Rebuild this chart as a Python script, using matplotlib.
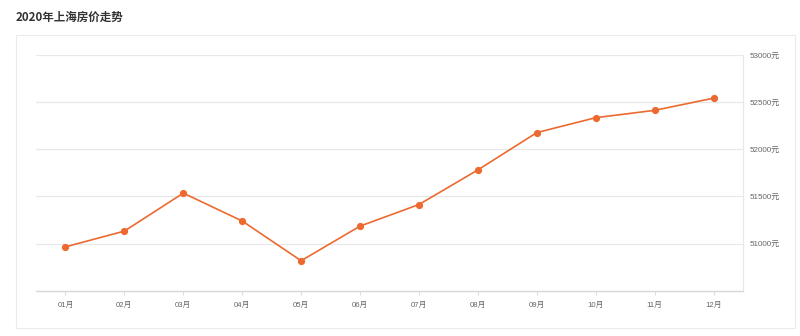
import matplotlib
matplotlib.use("Agg")
import matplotlib.pyplot as plt
from matplotlib.patches import Rectangle

plt.rcParams['font.family'] = ['Noto Sans CJK SC', 'DejaVu Sans']
tick_family = ['Liberation Sans', 'Noto Sans CJK SC']

months = ["01月", "02月", "03月", "04月", "05月", "06月",
          "07月", "08月", "09月", "10月", "11月", "12月"]
prices = [50965, 51132, 51535, 51239, 50818, 51185,
          51414, 51781, 52177, 52335, 52413, 52542]
yticks = [51000, 51500, 52000, 52500, 53000]
ytick_labels = ["51000元", "51500元", "52000元", "52500元", "53000元"]

fig = plt.figure(figsize=(8, 3.36), dpi=100)
fig.patch.set_facecolor("white")

# outer panel border
fig.patches.append(Rectangle((16/800, 1-328/336), (795-16)/800, (328-35)/336,
                             transform=fig.transFigure, facecolor="none",
                             edgecolor="#EBEBEB", linewidth=0.8, zorder=-5))

fig.text(16/800, 1-17/336, "2020年上海房价走势", fontsize=8.3, fontweight="bold",
         color="#333333", ha="left", va="center")

ax = fig.add_axes([36/800, 1-290.7/336, (743-36)/800, (290.7-55)/336])
ax.set_facecolor("none")
ax.set_zorder(2)
x = list(range(len(months)))
ax.plot(x, prices, color="#EC6A30", linewidth=1.2, marker="o", markersize=4.2,
        zorder=3, clip_on=False)

ax.set_xlim(-0.5, len(months) - 0.5)
ax.set_ylim(50500, 53000)
ax.set_xticks(x)
ax.set_xticklabels(months, fontsize=5.6, color="#666666", family=tick_family)
ax.yaxis.tick_right()
ax.set_yticks(yticks)
ax.set_yticklabels(ytick_labels, fontsize=5.8, color="#666666", family=tick_family)
ax.tick_params(axis="y", length=0, pad=5)
ax.tick_params(axis="x", length=3, color="#DDDDDD", width=0.8, pad=5)

for yv in yticks:
    ax.axhline(yv, color="#E8E8E8", linewidth=0.9, zorder=1)

for s in ["top", "left"]:
    ax.spines[s].set_visible(False)
ax.spines["right"].set_color("#E8E8E8")
ax.spines["right"].set_linewidth(0.9)
ax.spines["bottom"].set_color("#D6D6D6")
ax.spines["bottom"].set_linewidth(1.0)

fig.savefig("out.png", dpi=100, facecolor="white")
